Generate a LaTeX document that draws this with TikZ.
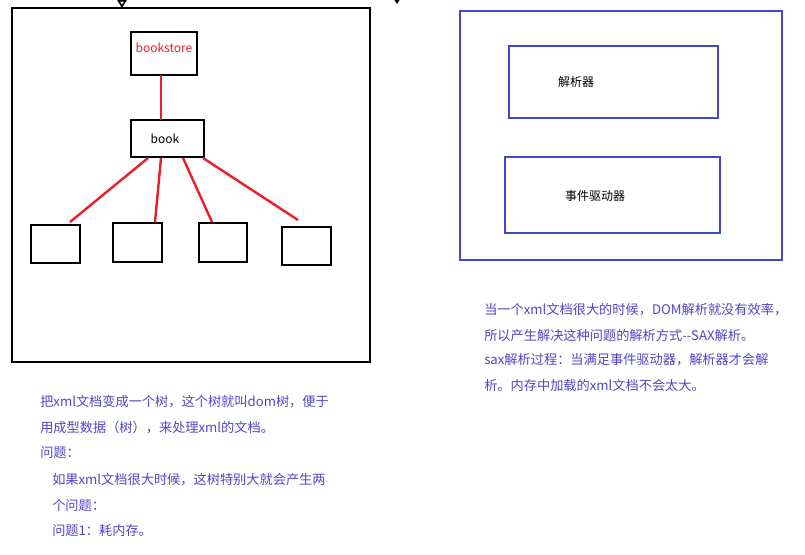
\documentclass[tikz,border=0pt]{standalone}
\usepackage{fontspec}
\setmainfont{Noto Sans CJK SC}
\usetikzlibrary{arrows.meta}
\definecolor{bl}{RGB}{64,72,208}
\definecolor{tx}{RGB}{80,70,200}
\definecolor{rd}{RGB}{235,30,40}
\tikzset{
  blk/.style={draw=black,line width=2.2pt},
  blu/.style={draw=bl,line width=2.2pt},
  red line/.style={draw=rd,line width=1.8pt},
  txt/.style={text=tx,font=\fontsize{9.9pt}{11pt}\selectfont,anchor=west,inner sep=0pt},
  lbl/.style={font=\fontsize{9pt}{11pt}\selectfont,inner sep=0pt}
}
\begin{document}
\begin{tikzpicture}[x=0.75pt,y=-0.75pt]
\useasboundingbox (0,0) rectangle (805,554);
\draw[blk] (12,8) rectangle (370,362);
\coordinate (a0) at (122,0);
\coordinate (a1) at (122,8);
\draw[line width=1.2pt,-{Triangle[open,length=6pt,width=7pt]}] (a0) -- (a1);
\coordinate (b0) at (397,-1);
\coordinate (b1) at (397,4);
\draw[line width=1pt,-{Triangle[length=4pt,width=5pt]}] (b0) -- (b1);
\node[blk,minimum width=66*0.75pt,minimum height=43*0.75pt,inner sep=0pt] (bs) at (164,53.5) {};
\node[lbl,text=rd] at (164,48) {bookstore};
\node[blk,minimum width=73*0.75pt,minimum height=37*0.75pt,inner sep=0pt] (bk) at (167.5,138.5) {};
\node[lbl] at (165,139) {book};
\draw[red line] (161,75) -- (161,120);
\node[blk,minimum width=49*0.75pt,minimum height=38*0.75pt] (c1) at (55.5,244) {};
\node[blk,minimum width=49*0.75pt,minimum height=39*0.75pt] (c2) at (137.5,242.5) {};
\node[blk,minimum width=48*0.75pt,minimum height=39*0.75pt] (c3) at (223,242.5) {};
\node[blk,minimum width=49*0.75pt,minimum height=38*0.75pt] (c4) at (306.5,246) {};
\draw[red line] (148,158) -- (70,222);
\draw[red line] (161,158) -- (155,222);
\draw[red line] (183,158) -- (212,222);
\draw[red line] (203,158) -- (298,220);
\draw[blu] (460,11) rectangle (782,260);
\node[blu,minimum width=209*0.75pt,minimum height=72*0.75pt] (p) at (613.5,82) {};
\node[lbl] at (576,82) {解析器};
\node[blu,minimum width=215*0.75pt,minimum height=76*0.75pt] (e) at (612.5,195) {};
\node[lbl] at (595,196) {事件驱动器};
\node[txt] at (40,402) {把xml文档变成一个树，这个树就叫dom树，便于};
\node[txt] at (40,428) {用成型数据（树），来处理xml的文档。};
\node[txt] at (40,453) {问题：};
\node[txt] at (52,480) {如果xml文档很大时候，这树特别大就会产生两};
\node[txt] at (52,505) {个问题：};
\node[txt] at (52,530) {问题1：耗内存。};
\node[txt] at (484,310) {当一个xml文档很大的时候，DOM解析就没有效率，};
\node[txt] at (484,335) {所以产生解决这种问题的解析方式{-}{-}SAX解析。};
\node[txt] at (484,360) {sax解析过程：当满足事件驱动器，解析器才会解};
\node[txt] at (484,385) {析。内存中加载的xml文档不会太大。};
\end{tikzpicture}
\end{document}
